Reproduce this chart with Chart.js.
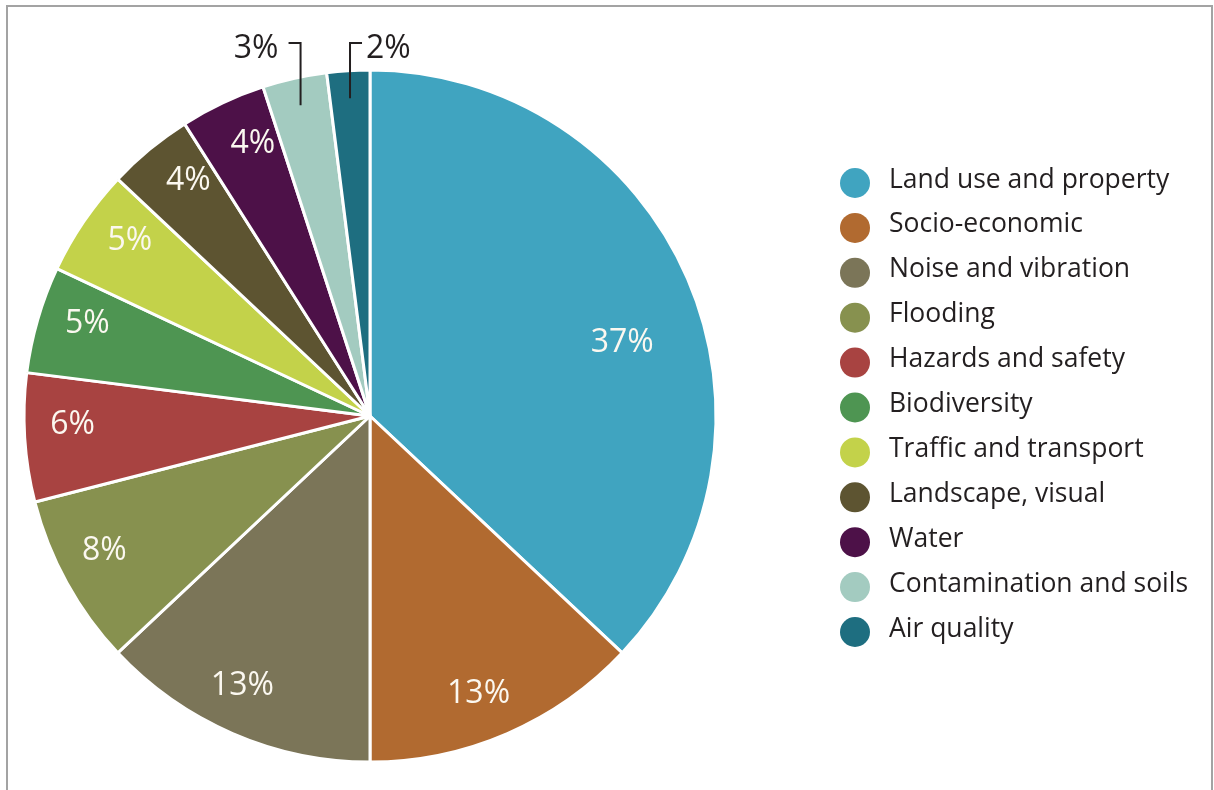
<!DOCTYPE html>
<html>
<head>
<meta charset="utf-8">
<script src="https://cdn.jsdelivr.net/npm/chart.js@4.4.1/dist/chart.umd.min.js"></script>
<style>
  html, body { margin: 0; padding: 0; background: #fff; overflow: hidden; }
  #frame {
    position: absolute; left: 6px; top: 5px; width: 1207px; height: 800px;
    border: 2px solid #a3a3a3; box-sizing: border-box;
  }
  #wrap { position: absolute; left: 0; top: 0; width: 1214px; height: 790px; }
</style>
</head>
<body>
<div id="frame"></div>
<div id="wrap"><canvas id="impactChart"></canvas></div>
<script>
const categories = [
  "Land use and property", "Socio-economic", "Noise and vibration", "Flooding",
  "Hazards and safety", "Biodiversity", "Traffic and transport", "Landscape, visual",
  "Water", "Contamination and soils", "Air quality"
];
const shares = [37, 13, 13, 8, 6, 5, 5, 4, 4, 3, 2];
const colours = [
  "#40a4c0", "#b16a30", "#7b7558", "#87914f", "#a84341", "#4e9552",
  "#c3d24a", "#5d5431", "#4d1148", "#a3cbc0", "#1e6e80"
];

const FONT = "'Open Sans', 'Noto Sans', sans-serif";
const DEG = Math.PI / 180;

// percentage labels: inside the slice, or above the pie with a bracket line for thin slices
const sliceLabels = {
  id: "sliceLabels",
  afterDatasetsDraw(chart) {
    const ctx = chart.ctx;
    const arcs = chart.getDatasetMeta(0).data;
    const values = chart.data.datasets[0].data;
    ctx.save();
    ctx.textBaseline = "middle";
    ctx.font = "32px " + FONT;
    arcs.forEach((arc, i) => {
      const { x, y, startAngle, endAngle, outerRadius } = arc.getProps(["x", "y", "startAngle", "endAngle", "outerRadius"], true);
      const mid = (startAngle + endAngle) / 2;
      const text = values[i] + "%";
      if (values[i] >= 4) {
        const big = values[i] > 30;
        const r = outerRadius * (big ? 0.76 : 0.86);
        const a = mid + (big ? 7 : 2) * DEG;
        ctx.fillStyle = "#fbf8f0";
        ctx.textAlign = "center";
        ctx.fillText(text, x + Math.cos(a) * r, y + Math.sin(a) * r + 1);
      } else {
        // bracket callout: up from the slice, then a short stub sideways
        const px = x + Math.cos(mid) * outerRadius * 0.92;
        const py = y + Math.sin(mid) * outerRadius * 0.92;
        const topY = y - outerRadius - 27;
        const left = values[i] === 3;
        const stub = left ? -12 : 12;
        ctx.strokeStyle = "#231f20";
        ctx.lineWidth = 2;
        ctx.beginPath();
        ctx.moveTo(px, py);
        ctx.lineTo(px, topY);
        ctx.lineTo(px + stub, topY);
        ctx.stroke();
        ctx.fillStyle = "#231f20";
        ctx.textAlign = left ? "right" : "left";
        ctx.fillText(text, px + stub + (left ? -10 : 4), topY + 6);
      }
    });
    ctx.restore();
  }
};

// legend on the right: coloured dot + category name
const sideLegend = {
  id: "sideLegend",
  afterDraw(chart) {
    const ctx = chart.ctx;
    ctx.save();
    ctx.font = "26.5px " + FONT;
    ctx.textBaseline = "middle";
    ctx.textAlign = "left";
    chart.data.labels.forEach((label, i) => {
      const cy = 183 + i * 44.9;
      ctx.fillStyle = chart.data.datasets[0].backgroundColor[i];
      ctx.beginPath();
      ctx.arc(855, cy, 15, 0, Math.PI * 2);
      ctx.fill();
      ctx.fillStyle = "#231f20";
      ctx.fillText(label, 889, cy - 3);
    });
    ctx.restore();
  }
};

new Chart(document.getElementById("impactChart"), {
  type: "pie",
  data: {
    labels: categories,
    datasets: [{
      data: shares,
      backgroundColor: colours,
      borderColor: "#ffffff",
      borderWidth: 3
    }]
  },
  options: {
    responsive: true,
    maintainAspectRatio: false,
    animation: false,
    layout: { padding: { left: 22.5, top: 68.5, bottom: 26.5, right: 496.5 } },
    plugins: {
      legend: { display: false },
      tooltip: { enabled: false }
    }
  },
  plugins: [sliceLabels, sideLegend]
});
</script>
</body>
</html>
